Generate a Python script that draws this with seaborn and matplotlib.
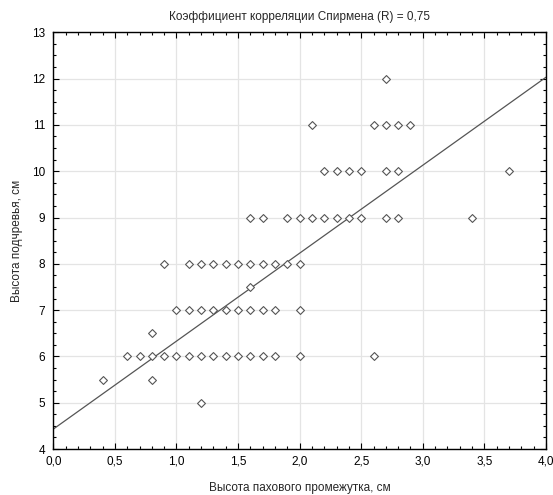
import numpy as np
import pandas as pd
import seaborn as sns
import matplotlib
matplotlib.use("Agg")
import matplotlib.pyplot as plt
from matplotlib.ticker import MultipleLocator, FuncFormatter

# Values: rows of points sharing one y value
x_y5 = [1.2]
x_y55 = [0.4, 0.8]
x_y6 = [0.6, 0.7, 0.8, 0.9, 1.0, 1.1, 1.2, 1.3, 1.4, 1.5, 1.6, 1.7, 1.8, 2.0, 2.6]
x_y65 = [0.8]
x_y7 = [1.0, 1.1, 1.2, 1.3, 1.4, 1.5, 1.6, 1.7, 1.8, 2.0]
x_y75 = [1.6]
x_y8 = [0.9, 1.1, 1.2, 1.3, 1.4, 1.5, 1.6, 1.7, 1.8, 1.9, 2.0]
x_y9 = [1.6, 1.7, 1.9, 2.0, 2.1, 2.2, 2.3, 2.4, 2.5, 2.7, 2.8, 3.4]
x_y10 = [2.2, 2.3, 2.4, 2.5, 2.7, 2.8, 3.7]
x_y11 = [2.1, 2.6, 2.7, 2.8, 2.9]
x_y12 = [2.7]

# regression line as drawn in the reference (overlapping points hide the exact fit)
fit_intercept = 4.43
fit_slope = 1.9
fit_x = [0.0, 4.0]

rows = {5: x_y5, 5.5: x_y55, 6: x_y6, 6.5: x_y65, 7: x_y7, 7.5: x_y75,
        8: x_y8, 9: x_y9, 10: x_y10, 11: x_y11, 12: x_y12}
df = pd.DataFrame([(x, y) for y, xs in rows.items() for x in xs],
                  columns=["gap", "height"])
fit_df = pd.DataFrame({"gap": fit_x})
fit_df["height"] = fit_intercept + fit_slope * fit_df["gap"]

title = "Коэффициент корреляции Спирмена (R) = 0,75"
xlabel = "Высота пахового промежутка, см"
ylabel = "Высота подчревья, см"

sns.set_style("white")
plt.rcParams["font.family"] = ["Liberation Sans", "DejaVu Sans"]

fig = plt.figure(figsize=(5.53, 4.95), dpi=100)
ax = fig.add_axes([0.0964, 0.0929, 0.8909, 0.8418])
ax.grid(True, color="#e4e4e4", linewidth=0.9)
ax.set_axisbelow(True)

sns.lineplot(data=fit_df, x="gap", y="height", ax=ax, color="#555555", linewidth=0.9)
sns.scatterplot(data=df, x="gap", y="height", ax=ax, marker="D", s=16,
                facecolor="white", edgecolor="#555555", linewidth=0.8, zorder=3)

ax.set_xlim(0, 4)
ax.set_ylim(4, 13)
ax.xaxis.set_major_locator(MultipleLocator(0.5))
ax.xaxis.set_minor_locator(MultipleLocator(0.1))
ax.yaxis.set_major_locator(MultipleLocator(1))
ax.yaxis.set_minor_locator(MultipleLocator(0.25))
ax.xaxis.set_major_formatter(FuncFormatter(lambda v, p: f"{v:.1f}".replace(".", ",")))
ax.tick_params(which="both", direction="in", top=True, right=True,
               bottom=True, left=True, colors="black", labelsize=8.5)
ax.tick_params(which="major", length=4, width=0.8)
ax.tick_params(which="minor", length=2.5, width=0.8)
ax.tick_params(axis="x", pad=5)
ax.tick_params(axis="y", pad=6)
for sp in ax.spines.values():
    sp.set_color("black")
    sp.set_linewidth(1.0)

ax.set_title(title, fontsize=8.5, pad=9)
ax.set_xlabel(xlabel, fontsize=8.5, labelpad=10)
ax.set_ylabel(ylabel, fontsize=8.5, labelpad=6)

fig.savefig("out.png", dpi=100, facecolor="white")
